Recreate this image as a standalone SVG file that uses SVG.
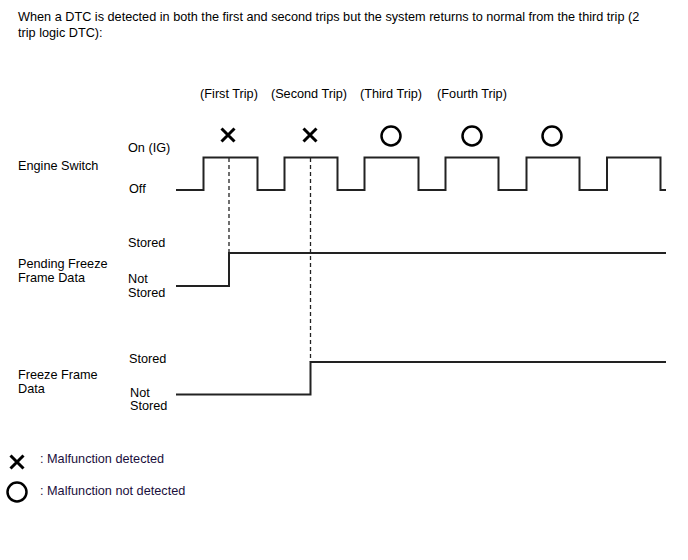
<svg xmlns="http://www.w3.org/2000/svg" width="688" height="560" viewBox="0 0 688 560">
<style>
text{font-family:"Liberation Sans",Arial,sans-serif;font-size:12.7px;fill:#000}
.leg{fill:#1a0f3c}
.wave{fill:none;stroke:#222;stroke-width:2}
.dash{fill:none;stroke:#222;stroke-width:1.3;stroke-dasharray:4,3}
.x{stroke:#000;stroke-width:3;fill:none}
.o{stroke:#000;stroke-width:2.5;fill:none}
</style>
<defs>
<path id="cross" d="M-6.5,-6.5 L6.5,6.5 M6.5,-6.5 L-6.5,6.5" class="x"/>
<circle id="ring" r="9.5" class="o"/>
</defs>
<rect width="688" height="560" fill="#fff"/>
<g id="title">
<text x="18" y="21">When a DTC is detected in both the first and second trips but the system returns to normal from the third trip (2</text>
<text x="18" y="37">trip logic DTC):</text>
</g>
<g id="trip-labels">
<text x="229" y="98" text-anchor="middle">(First Trip)</text>
<text x="309" y="98" text-anchor="middle">(Second Trip)</text>
<text x="391" y="98" text-anchor="middle">(Third Trip)</text>
<text x="472" y="98" text-anchor="middle">(Fourth Trip)</text>
</g>
<g id="trip-marks">
<use href="#cross" x="228" y="135"/>
<use href="#cross" x="310" y="135"/>
<use href="#ring" x="391" y="136"/>
<use href="#ring" x="472" y="136"/>
<use href="#ring" x="552" y="136"/>
</g>
<g id="engine-switch">
<text x="18" y="170">Engine Switch</text>
<text x="128" y="152">On (IG)</text>
<text x="129" y="193">Off</text>
</g>
<g id="pending-freeze">
<text x="18" y="268">Pending Freeze</text>
<text x="18" y="282">Frame Data</text>
<text x="128" y="247">Stored</text>
<text x="128" y="283">Not</text>
<text x="128" y="297">Stored</text>
</g>
<g id="freeze-frame">
<text x="18" y="379">Freeze Frame</text>
<text x="18" y="393">Data</text>
<text x="129" y="363">Stored</text>
<text x="130" y="397">Not</text>
<text x="130" y="410">Stored</text>
</g>
<g id="connectors">
<path class="wave" d="M176,190 H203.5 V157.5 H257.5 V190 H284.5 V157.5 H337.5 V190 H364.5 V157.5 H418.5 V190 H445.5 V157.5 H498.5 V190 H526.5 V157.5 H579.5 V190 H607 V157.5 H660.5 V190 H666"/>
<path class="wave" d="M176,286 H229 V253 H666"/>
<path class="wave" d="M176,394.5 H310.5 V362 H666"/>
<path class="dash" d="M229,158 V253"/>
<path class="dash" d="M310.5,158 V362"/>
</g>
<g id="legend">
<use href="#cross" x="17" y="462"/>
<text class="leg" x="40" y="463">: Malfunction detected</text>
<use href="#ring" x="17" y="492"/>
<text class="leg" x="40" y="495">: Malfunction not detected</text>
</g>
</svg>
